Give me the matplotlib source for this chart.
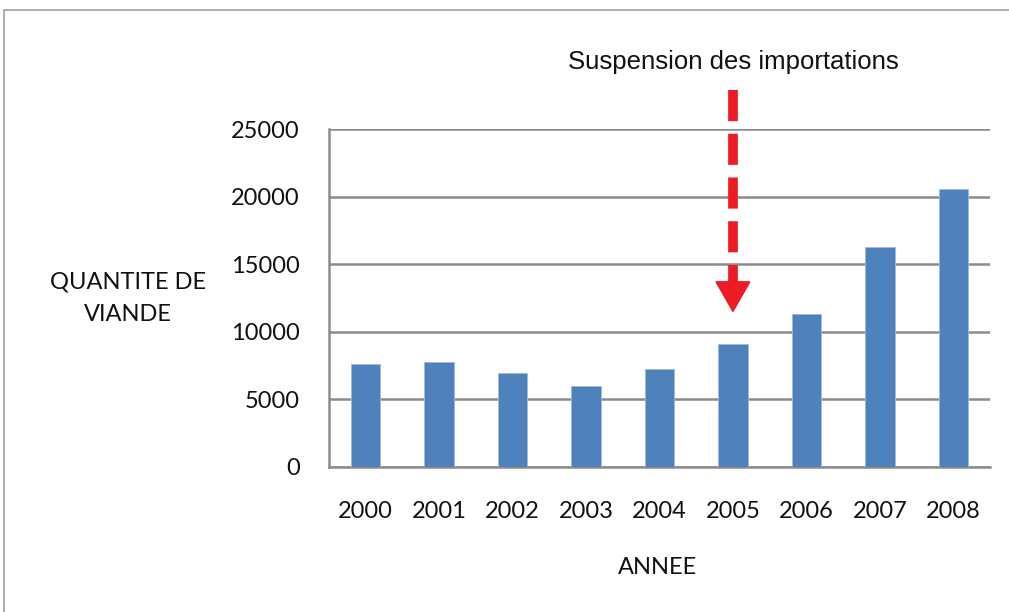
import matplotlib
matplotlib.use("Agg")
import matplotlib.pyplot as plt
from matplotlib.patches import Polygon, Rectangle

# data
years = ['2000', '2001', '2002', '2003', '2004', '2005', '2006', '2007', '2008']
quantite = [7590, 7740, 6950, 6000, 7270, 9120, 11320, 16310, 20540]
yticks = [0, 5000, 10000, 15000, 20000, 25000]

note = 'Suspension des importations'
note_idx = 5          # 2005
arrow_top = 27900
arrow_head = 13700
arrow_tip = 11500

bar_color = '#4f81bd'
grid_color = '#8c8c8c'
label_font = ['Lato', 'DejaVu Sans']

fig = plt.figure(figsize=(10.09, 6.12), dpi=100)
fig.patch.set_facecolor('white')
# outer chart frame (only left/top visible in the original crop)
fig.add_artist(Rectangle((4/1009, -0.05), 1.2, 1 - 10/612 + 0.05, transform=fig.transFigure,
                         fill=False, edgecolor='#a0a0a0', lw=1.2))

ax = fig.add_axes([329/1009, 1 - 466.7/612, 661/1009, (466.7 - 129.3)/612])
x = range(len(years))
ax.bar(x, quantite, width=0.4, color=bar_color, edgecolor='#9dbbe0', linewidth=0.6, zorder=3)

ax.set_xlim(-0.5, len(years) - 0.5)
ax.set_ylim(0, 25000)
ax.set_yticks(yticks)
ax.set_xticks(list(x))
ax.set_xticklabels(years)
for s in ['right', 'top']:
    ax.spines[s].set_visible(False)
for s in ['left', 'bottom']:
    ax.spines[s].set_color(grid_color)
    ax.spines[s].set_linewidth(1.8)
ax.yaxis.grid(True, color=grid_color, linewidth=1.8)
ax.set_axisbelow(True)
ax.tick_params(axis='both', length=0, labelsize=17, colors='#111111')
ax.tick_params(axis='y', pad=21)
ax.tick_params(axis='x', pad=25)
for lab in ax.get_xticklabels() + ax.get_yticklabels():
    lab.set_family(label_font)

fig.text(128/1009, 1 - 282/612, 'QUANTITE DE', ha='center', va='center',
         fontsize=17, family=label_font, color='#111111')
fig.text(128/1009, 1 - 315/612, 'VIANDE', ha='center', va='center',
         fontsize=17, family=label_font, color='#111111')
fig.text(658/1009, 1 - 567/612, 'ANNEE', ha='center', va='center',
         fontsize=17, family=label_font, color='#111111')

# annotation: dashed arrow down to 2005
ax.plot([note_idx, note_idx], [arrow_top, arrow_head], color='#ed1c24', lw=7,
        linestyle=(0, (3.2, 1.3)), clip_on=False, zorder=5, solid_capstyle='butt')
ax.add_patch(Polygon([[note_idx - 0.23, arrow_head], [note_idx + 0.23, arrow_head],
                      [note_idx, arrow_tip]], closed=True, color='#ed1c24',
                     clip_on=False, zorder=5))
ax.text(note_idx, 30000, note, ha='center', va='center', fontsize=18.5,
        family=['Liberation Sans', 'DejaVu Sans'], color='#111111')

fig.savefig('out.png', dpi=100)
